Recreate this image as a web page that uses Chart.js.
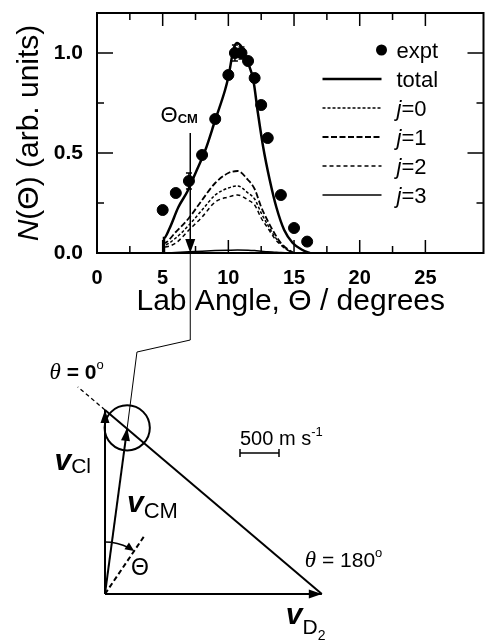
<!DOCTYPE html>
<html>
<head>
<meta charset="utf-8">
<script src="https://cdn.jsdelivr.net/npm/chart.js@4.4.1/dist/chart.umd.min.js"></script>
<style>
  html, body { margin: 0; padding: 0; background: #fff; }
  #plot, #diagram { position: absolute; left: 0; top: 0; }
  #diagram { pointer-events: none; }
</style>
</head>
<body>
<canvas id="plot" width="491" height="320"></canvas>
<canvas id="diagram" width="491" height="640"></canvas>
<script>
// ---- angular distribution (top panel) ----
const exptAngle = [5, 6, 7, 8, 9, 10, 10.5, 11, 11.5, 12, 12.5, 13, 14, 15, 16];
const exptValue = [0.215, 0.30, 0.36, 0.49, 0.67, 0.89, 1.0, 1.0, 0.96, 0.875, 0.74, 0.575, 0.29, 0.125, 0.057];
const exptError = [0, 0, 0.04, 0, 0, 0, 0.04, 0.03, 0, 0, 0, 0, 0, 0, 0];

const totalAngle = [5.1, 5.1, 5.5, 6.2, 6.9, 7.6, 8.25, 9.0, 9.75, 10.0, 10.4, 10.65, 11.0, 11.5, 11.9, 12.25, 12.65, 13.15, 13.65, 14.25, 14.9, 15.65, 16.2];
const totalValue = [0, 0.075, 0.12, 0.23, 0.31, 0.415, 0.515, 0.665, 0.815, 0.88, 1.02, 1.05, 1.03, 0.95, 0.865, 0.70, 0.53, 0.365, 0.23, 0.115, 0.05, 0.015, 0];

const jAngle = [5.1, 5.1, 6, 7, 8, 9, 10, 10.7, 11.5, 12, 12.5, 13, 13.5, 14, 14.5, 15];
const j0Value = [0, 0.04, 0.075, 0.14, 0.215, 0.29, 0.325, 0.335, 0.30, 0.27, 0.20, 0.14, 0.085, 0.045, 0.015, 0];
const j1Value = [0, 0.05, 0.105, 0.175, 0.265, 0.35, 0.40, 0.41, 0.365, 0.32, 0.23, 0.16, 0.10, 0.05, 0.02, 0];
const j2Value = [0, 0.03, 0.05, 0.115, 0.18, 0.255, 0.28, 0.29, 0.265, 0.24, 0.175, 0.125, 0.075, 0.04, 0.015, 0];
const j3Value = [0, 0, 0.003, 0.006, 0.009, 0.012, 0.014, 0.015, 0.014, 0.012, 0.009, 0.006, 0.004, 0.002, 0.001, 0];

const thetaCM = 7.1;
const xTicksMajor = [0, 5, 10, 15, 20, 25];
const yTicksMajor = [0, 0.5, 1.0];

// ---- Newton diagram (bottom panel), m s-1 ----
const vCl = [0, 2360];
const vD2 = [2780, 0];
const vCM = [285, 2130];
const newtonRadius = 290;
const labThetaDir = [515, 760];
const theta0End = [-350, 2655];
const scaleBarStart = [1731, 1808];
const scaleBarLength = 500;

const SANS = '"Liberation Sans", Arial, Helvetica, sans-serif';
const SERIF = '"Liberation Serif", "Times New Roman", serif';

function xy(xs, ys) { return xs.map((x, i) => ({ x: x, y: ys[i] })); }

function drawRuns(ctx, runs, x, y, align) {
  let w = 0;
  runs.forEach(r => { ctx.font = r.font; r.w = ctx.measureText(r.t).width; w += r.w; });
  let cx = align === 'center' ? x - w / 2 : align === 'right' ? x - w : x;
  ctx.textAlign = 'left';
  ctx.textBaseline = 'alphabetic';
  runs.forEach(r => { ctx.font = r.font; ctx.fillText(r.t, cx, y + (r.dy || 0)); cx += r.w; });
}

function arrowHead(ctx, x, y, ang, len, half) {
  ctx.beginPath();
  ctx.moveTo(x, y);
  ctx.lineTo(x - len * Math.cos(ang) + half * Math.sin(ang), y - len * Math.sin(ang) - half * Math.cos(ang));
  ctx.lineTo(x - len * Math.cos(ang) - half * Math.sin(ang), y - len * Math.sin(ang) + half * Math.cos(ang));
  ctx.closePath();
  ctx.fill();
}

// kill the automatic label overflow padding so the plot box sits where the reference has it
function noPad(s) { s.paddingLeft = 0; s.paddingRight = 0; s.paddingTop = 0; s.paddingBottom = 0; }

const legendRows = [
  { label: 'expt', dot: true },
  { label: 'total', ds: 1 },
  { label: '0', ds: 2 },
  { label: '1', ds: 3 },
  { label: '2', ds: 4 },
  { label: '3', ds: 5 }
];

const plotDecor = {
  id: 'plotDecor',
  afterDatasetsDraw(chart) {
    const ctx = chart.ctx, a = chart.chartArea;
    const xs = chart.scales.x, ys = chart.scales.y;
    ctx.save();
    ctx.strokeStyle = '#000';
    ctx.fillStyle = '#000';

    // error bars
    ctx.lineWidth = 1.5;
    exptAngle.forEach((x, i) => {
      if (!exptError[i]) return;
      const px = xs.getPixelForValue(x);
      const y1 = ys.getPixelForValue(exptValue[i] - exptError[i]);
      const y2 = ys.getPixelForValue(exptValue[i] + exptError[i]);
      ctx.beginPath();
      ctx.moveTo(px, y1); ctx.lineTo(px, y2);
      ctx.moveTo(px - 3, y1); ctx.lineTo(px + 3, y1);
      ctx.moveTo(px - 3, y2); ctx.lineTo(px + 3, y2);
      ctx.stroke();
    });

    // frame
    ctx.lineWidth = 2;
    ctx.strokeRect(a.left, a.top, a.right - a.left - 1, a.bottom - a.top);

    // inward ticks on all four sides
    ctx.lineWidth = 1.5;
    xs.ticks.forEach(t => {
      if (Math.abs(t.value / 2.5 - Math.round(t.value / 2.5)) > 1e-6) return;
      const px = xs.getPixelForValue(t.value);
      const len = xTicksMajor.includes(t.value) ? 13 : 7;
      ctx.beginPath();
      ctx.moveTo(px, a.bottom); ctx.lineTo(px, a.bottom - len);
      ctx.moveTo(px, a.top); ctx.lineTo(px, a.top + len);
      ctx.stroke();
    });
    ys.ticks.forEach(t => {
      if (Math.abs(t.value / 0.25 - Math.round(t.value / 0.25)) > 1e-6) return;
      const py = ys.getPixelForValue(t.value);
      const len = yTicksMajor.some(v => Math.abs(v - t.value) < 1e-6) ? 16 : 7;
      ctx.beginPath();
      ctx.moveTo(a.left, py); ctx.lineTo(a.left + len, py);
      ctx.moveTo(a.right - 1, py); ctx.lineTo(a.right - 1 - len, py);
      ctx.stroke();
    });

    // y axis title
    ctx.save();
    ctx.translate(27, (a.top + a.bottom) / 2);
    ctx.rotate(-Math.PI / 2);
    drawRuns(ctx, [
      { t: 'N', font: 'italic 30px ' + SANS },
      { t: '(\u0398) (arb. units)', font: '30px ' + SANS }
    ], 0, 11, 'center');
    ctx.restore();

    // Theta_CM marker arrow
    const cx = xs.getPixelForValue(thetaCM);
    const top = ys.getPixelForValue(0.6), bot = ys.getPixelForValue(0);
    ctx.lineWidth = 1.5;
    ctx.beginPath(); ctx.moveTo(cx, top); ctx.lineTo(cx, bot - 10); ctx.stroke();
    arrowHead(ctx, cx, bot, Math.PI / 2, 14, 5);
    drawRuns(ctx, [
      { t: '\u0398', font: '22px ' + SANS },
      { t: 'CM', font: 'bold 13px ' + SANS, dy: 1 }
    ], cx - 11, top - 11, 'center');

    // legend
    const sx0 = a.right - 162, sx1 = a.right - 103, tx = a.right - 88;
    legendRows.forEach((row, i) => {
      const y = a.top + 37 + i * 29;
      if (row.dot) {
        ctx.beginPath(); ctx.arc(sx1, y, 5.5, 0, Math.PI * 2); ctx.fill();
        drawRuns(ctx, [{ t: row.label, font: '22px ' + SANS }], tx, y + 8, 'left');
      } else {
        const ds = chart.data.datasets[row.ds];
        ctx.lineWidth = ds.borderWidth;
        ctx.setLineDash(ds.borderDash || []);
        ctx.beginPath(); ctx.moveTo(sx0, y); ctx.lineTo(sx1, y); ctx.stroke();
        ctx.setLineDash([]);
        if (row.ds === 1) {
          drawRuns(ctx, [{ t: row.label, font: '22px ' + SANS }], tx, y + 8, 'left');
        } else {
          drawRuns(ctx, [
            { t: 'j', font: 'italic 22px ' + SANS },
            { t: '=' + row.label, font: '22px ' + SANS }
          ], tx, y + 8, 'left');
        }
      }
    });
    ctx.restore();
  }
};

const lineBase = { borderColor: '#000', pointRadius: 0, fill: false, cubicInterpolationMode: 'monotone' };

const plotChart = new Chart(document.getElementById('plot'), {
  type: 'line',
  data: {
    datasets: [
      { label: 'expt', data: xy(exptAngle, exptValue), showLine: false, pointRadius: 5.5,
        pointBackgroundColor: '#000', pointBorderColor: '#000', borderColor: '#000' },
      Object.assign({ label: 'total', data: xy(totalAngle, totalValue), borderWidth: 2.5 }, lineBase),
      Object.assign({ label: 'j=0', data: xy(jAngle, j0Value), borderWidth: 1.5, borderDash: [3, 2] }, lineBase),
      Object.assign({ label: 'j=1', data: xy(jAngle, j1Value), borderWidth: 1.8, borderDash: [6, 2.5] }, lineBase),
      Object.assign({ label: 'j=2', data: xy(jAngle, j2Value), borderWidth: 1.5, borderDash: [4, 3] }, lineBase),
      Object.assign({ label: 'j=3', data: xy(jAngle, j3Value), borderWidth: 1.5 }, lineBase)
    ]
  },
  options: {
    responsive: false,
    animation: false,
    layout: { padding: { top: 13, right: 1, left: 0, bottom: 0 } },
    plugins: { legend: { display: false }, tooltip: { enabled: false } },
    scales: {
      x: {
        type: 'linear', min: 0, max: 29.5,
        grid: { display: false, drawTicks: false },
        border: { display: false },
        ticks: {
          stepSize: 2.5, autoSkip: false, maxRotation: 0, padding: 13, color: '#000',
          font: { family: SANS, size: 20, weight: 'bold' },
          callback: v => xTicksMajor.includes(v) ? String(v) : ''
        },
        title: { display: true, text: 'Lab Angle, \u0398 / degrees', color: '#000',
          font: { family: SANS, size: 30 }, padding: { top: 0, bottom: 0 } },
        afterFit: s => { s.height = 67; noPad(s); }
      },
      y: {
        min: 0, max: 1.2,
        grid: { display: false, drawTicks: false },
        border: { display: false },
        ticks: {
          stepSize: 0.25, autoSkip: false, padding: 14, color: '#000',
          font: { family: SANS, size: 21, weight: 'bold' },
          callback: v => yTicksMajor.some(m => Math.abs(m - v) < 1e-6) ? v.toFixed(1) : ''
        },
        afterFit: s => { s.width = 97; noPad(s); }
      }
    }
  },
  plugins: [plotDecor]
});

// ---- Newton diagram ----
const diagramDecor = {
  id: 'diagramDecor',
  afterDatasetsDraw(chart) {
    const ctx = chart.ctx;
    const xs = chart.scales.x, ys = chart.scales.y;
    const P = v => [xs.getPixelForValue(v[0]), ys.getPixelForValue(v[1])];
    ctx.save();
    ctx.fillStyle = '#000';
    ctx.strokeStyle = '#000';

    const o = P([0, 0]);
    // arrowheads on the velocity vectors
    [vCl, vD2, vCM].forEach(v => {
      const p = P(v);
      arrowHead(ctx, p[0], p[1], Math.atan2(p[1] - o[1], p[0] - o[0]), 13, 4.5);
    });

    // Newton circle
    const r = xs.getPixelForValue(newtonRadius) - xs.getPixelForValue(0);
    const c = P(vCM);
    ctx.lineWidth = 2;
    ctx.beginPath(); ctx.arc(c[0], c[1], r, 0, Math.PI * 2); ctx.stroke();

    // leader line from the Theta_CM marker of the top panel
    const lx = plotChart.scales.x.getPixelForValue(thetaCM);
    const ly = plotChart.scales.y.getPixelForValue(0);
    ctx.lineWidth = 1;
    ctx.beginPath();
    ctx.moveTo(lx, ly);
    ctx.lineTo(lx, ys.getPixelForValue(3256));
    ctx.lineTo(xs.getPixelForValue(410), ys.getPixelForValue(3102));
    ctx.lineTo(c[0], c[1]);
    ctx.stroke();

    // lab-angle arc
    const rad = 52;
    const a1 = -Math.PI / 2, a2 = Math.atan2(-labThetaDir[1], labThetaDir[0]);
    ctx.lineWidth = 1.5;
    ctx.beginPath(); ctx.arc(o[0], o[1], rad, a1, a2 - 0.12); ctx.stroke();
    const ex = o[0] + rad * Math.cos(a2), ey = o[1] + rad * Math.sin(a2);
    arrowHead(ctx, ex, ey, a2 + Math.PI / 2, 9, 4);

    // scale bar end caps
    const b0 = P(scaleBarStart), b1 = P([scaleBarStart[0] + scaleBarLength, scaleBarStart[1]]);
    ctx.lineWidth = 1.5;
    ctx.beginPath();
    ctx.moveTo(b0[0], b0[1] - 4); ctx.lineTo(b0[0], b0[1] + 4);
    ctx.moveTo(b1[0], b1[1] - 4); ctx.lineTo(b1[0], b1[1] + 4);
    ctx.stroke();
    drawRuns(ctx, [
      { t: '500 m s', font: '20px ' + SANS },
      { t: '-1', font: '13px ' + SANS, dy: -9 }
    ], b0[0], b0[1] - 8, 'left');

    // labels
    const t0 = P(theta0End);
    drawRuns(ctx, [
      { t: '\u03b8', font: 'italic 23px ' + SERIF },
      { t: ' = 0', font: 'bold 21px ' + SANS },
      { t: 'o', font: '13px ' + SANS, dy: -10 }
    ], t0[0] + 26, t0[1] - 8, 'right');

    const d = P(vD2);
    drawRuns(ctx, [
      { t: '\u03b8', font: 'italic 23px ' + SERIF },
      { t: ' = 180', font: '21px ' + SANS },
      { t: 'o', font: '13px ' + SANS, dy: -10 }
    ], d[0] - 17, d[1] - 27, 'left');

    const cl = P([vCl[0], vCl[1] * 0.5]);
    drawRuns(ctx, [
      { t: 'v', font: 'bold italic 30px ' + SANS },
      { t: 'Cl', font: '21px ' + SANS, dy: 3 }
    ], cl[0] - 14, cl[1] - 32, 'right');

    drawRuns(ctx, [
      { t: 'v', font: 'bold italic 30px ' + SANS },
      { t: 'CM', font: '22px ' + SANS, dy: 6 }
    ], o[0] + 22, o[1] - 82, 'left');

    drawRuns(ctx, [
      { t: 'v', font: 'bold italic 30px ' + SANS },
      { t: 'D', font: '21px ' + SANS, dy: 10 },
      { t: '2', font: '14px ' + SANS, dy: 16 }
    ], d[0] - 36, d[1] + 30, 'left');

    drawRuns(ctx, [{ t: '\u0398', font: '23px ' + SANS }], o[0] + 35, o[1] - 19, 'center');
    ctx.restore();
  }
};

const seg = (p, q) => [{ x: p[0], y: p[1] }, { x: q[0], y: q[1] }];
const vecStyle = { borderColor: '#000', pointRadius: 0, showLine: true, fill: false };

new Chart(document.getElementById('diagram'), {
  type: 'scatter',
  data: {
    datasets: [
      Object.assign({ label: 'vCl', data: seg([0, 0], vCl), borderWidth: 2 }, vecStyle),
      Object.assign({ label: 'vD2', data: seg([0, 0], vD2), borderWidth: 2 }, vecStyle),
      Object.assign({ label: 'vCM', data: seg([0, 0], vCM), borderWidth: 2 }, vecStyle),
      Object.assign({ label: 'relative', data: seg(vCl, vD2), borderWidth: 2 }, vecStyle),
      Object.assign({ label: 'theta0', data: seg(vCl, theta0End), borderWidth: 1.3, borderDash: [4, 3] }, vecStyle),
      Object.assign({ label: 'labTheta', data: seg([0, 0], labThetaDir), borderWidth: 2, borderDash: [5, 3] }, vecStyle),
      Object.assign({ label: 'scale', data: seg(scaleBarStart, [scaleBarStart[0] + scaleBarLength, scaleBarStart[1]]), borderWidth: 1.5 }, vecStyle)
    ]
  },
  options: {
    responsive: false,
    animation: false,
    layout: { padding: 0 },
    plugins: { legend: { display: false }, tooltip: { enabled: false } },
    scales: {
      x: { type: 'linear', display: false, min: -1346, max: 4949 },
      y: { type: 'linear', display: false, min: -590, max: 7615 }
    }
  },
  plugins: [diagramDecor]
});
</script>
</body>
</html>
